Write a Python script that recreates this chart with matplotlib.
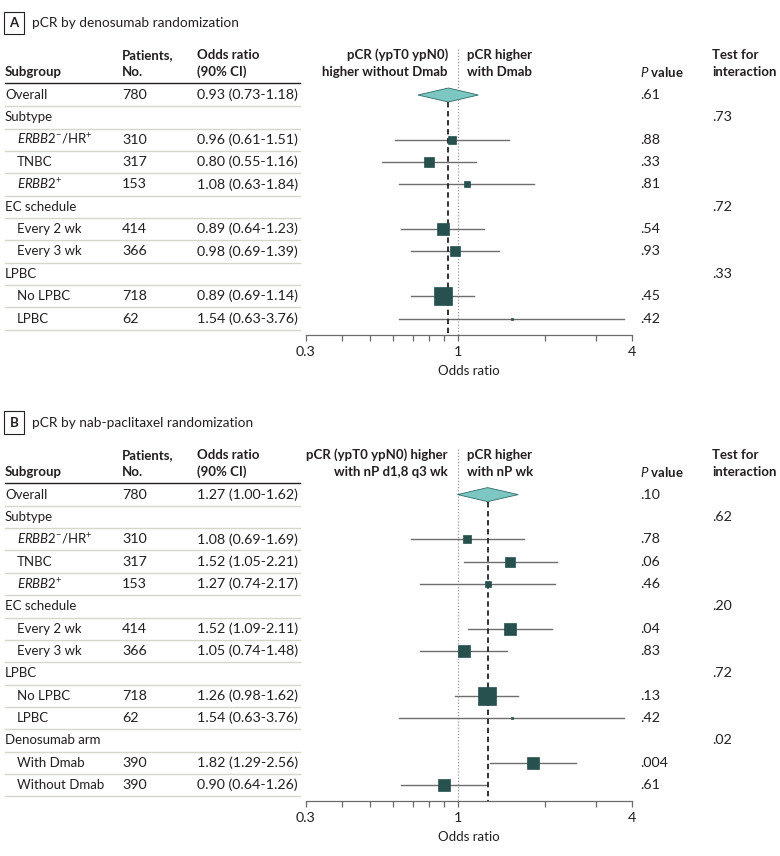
import numpy as np
import matplotlib
matplotlib.use('Agg')
import matplotlib.pyplot as plt
from matplotlib import transforms

plt.rcParams['font.family'] = ['Lato', 'DejaVu Sans']
plt.rcParams['mathtext.fontset'] = 'custom'
plt.rcParams['mathtext.rm'] = 'Lato'
plt.rcParams['mathtext.it'] = 'Lato:italic'
plt.rcParams['mathtext.bf'] = 'Lato:bold'

# Panel A: pCR by denosumab randomization
labels_a = ['Overall', 'Subtype', r'$\mathit{ERBB2}^{-}$/HR$^{+}$', 'TNBC', r'$\mathit{ERBB2}^{+}$',
            'EC schedule', 'Every 2 wk', 'Every 3 wk', 'LPBC', 'No LPBC', 'LPBC']
level_a = [0, 0, 1, 1, 1, 0, 1, 1, 0, 1, 1]
n_a = [780, None, 310, 317, 153, None, 414, 366, None, 718, 62]
or_a = [0.93, None, 0.96, 0.80, 1.08, None, 0.89, 0.98, None, 0.89, 1.54]
lo_a = [0.73, None, 0.61, 0.55, 0.63, None, 0.64, 0.69, None, 0.69, 0.63]
hi_a = [1.18, None, 1.51, 1.16, 1.84, None, 1.23, 1.39, None, 1.14, 3.76]
p_a = ['.61', '', '.88', '.33', '.81', '', '.54', '.93', '', '.45', '.42']
pint_a = ['', '.73', '', '', '', '.72', '', '', '.33', '', '']

# Panel B: pCR by nab-paclitaxel randomization
labels_b = ['Overall', 'Subtype', r'$\mathit{ERBB2}^{-}$/HR$^{+}$', 'TNBC', r'$\mathit{ERBB2}^{+}$',
            'EC schedule', 'Every 2 wk', 'Every 3 wk', 'LPBC', 'No LPBC', 'LPBC',
            'Denosumab arm', 'With Dmab', 'Without Dmab']
level_b = [0, 0, 1, 1, 1, 0, 1, 1, 0, 1, 1, 0, 1, 1]
n_b = [780, None, 310, 317, 153, None, 414, 366, None, 718, 62, None, 390, 390]
or_b = [1.27, None, 1.08, 1.52, 1.27, None, 1.52, 1.05, None, 1.26, 1.54, None, 1.82, 0.90]
lo_b = [1.00, None, 0.69, 1.05, 0.74, None, 1.09, 0.74, None, 0.98, 0.63, None, 1.29, 0.64]
hi_b = [1.62, None, 1.69, 2.21, 2.17, None, 2.11, 1.48, None, 1.62, 3.76, None, 2.56, 1.26]
p_b = ['.10', '', '.78', '.06', '.46', '', '.04', '.83', '', '.13', '.42', '', '.004', '.61']
pint_b = ['', '.62', '', '', '', '.20', '', '', '.72', '', '', '.02', '', '']

W, H = 780, 856
S = 22.35
FS = 9.5     # words
FN = 10.3    # numbers (reference numerals run wide)
TXT = '#231f20'
SQ = '#27514f'
fig = plt.figure(figsize=(W / 100, H / 100), dpi=100)


def draw_panel(letter, title, top, labels, level, n, orr, lo, hi, pv, pint, left_txt, right_txt):
    nrows = len(labels)
    axis_px = top + (nrows - 1 + 0.72) * S
    head_px = top - 50
    ax = fig.add_axes([306 / W, 1 - axis_px / H, 326 / W, (axis_px - head_px) / H])
    ax.set_xscale('log')
    ybot = (axis_px - top) / S
    ax.set_ylim(ybot, (head_px - top) / S)
    tr = transforms.blended_transform_factory(fig.transFigure, ax.transData)
    d = lambda px: (px - top) / S

    # title
    fig.text(14 / W, 1 - (top - 72) / H, letter, fontsize=FS, fontweight='bold', color=TXT,
             ha='center', va='center',
             bbox=dict(boxstyle='square,pad=0.4', fc='white', ec=TXT, lw=0.8))
    fig.text(32 / W, 1 - (top - 72) / H, title, fontsize=9.8, color=TXT, va='center')

    # headers
    h1, h2 = d(top - 40), d(top - 23)
    kw = dict(transform=tr, fontsize=FS, fontweight='bold', color=TXT, va='center')
    ax.text(5 / W, h2, 'Subgroup', **kw)
    ax.text(122 / W, h1, 'Patients,', **kw)
    ax.text(122 / W, h2, 'No.', **kw)
    ax.text(197 / W, h1, 'Odds ratio', **kw)
    ax.text(197 / W, h2, '(90% CI)', **kw)
    ax.text(448 / W, h1, left_txt[0], ha='right', **kw)
    ax.text(448 / W, h2, left_txt[1], ha='right', **kw)
    ax.text(467 / W, h1, right_txt[0], **kw)
    ax.text(467 / W, h2, right_txt[1], **kw)
    ax.text(640 / W, h2, r'$\mathit{P}$ value', **kw)
    ax.text(712 / W, h1, 'Test for', **kw)
    ax.text(712 / W, h2, 'interaction', **kw)
    ax.plot([5 / W, 300 / W], [d(top - 12)] * 2, transform=tr, color=TXT, lw=1.0, clip_on=False)

    kw = dict(transform=tr, color=TXT, va='center')
    for i in range(nrows):
        ax.text((5 if level[i] == 0 else 17) / W, i, labels[i], fontsize=FS, **kw)
        if n[i] is not None:
            ax.text(122 / W, i, str(n[i]), fontsize=FN, **kw)
            ax.text(197 / W, i, f'{orr[i]:.2f} ({lo[i]:.2f}-{hi[i]:.2f})', fontsize=FN, **kw)
        ax.text(640 / W, i, pv[i], fontsize=FN, **kw)
        ax.text(712 / W, i, pint[i], fontsize=FN, **kw)
        ax.plot([5 / W, 300 / W], [i + 0.5] * 2, transform=tr, color='#d6d6cb', lw=1.0, clip_on=False)

    # reference line at 1 and overall estimate
    ax.plot([1, 1], [d(top - 46), ybot], color='#9a9a9a', ls=(0, (1, 1.5)), lw=0.9)
    hh = 7 / S
    ax.fill([lo[0], orr[0], hi[0], orr[0]], [0, -hh, 0, hh], fc='#7cc7c2', ec='#2f6b68', lw=0.6, zorder=4)
    ax.plot([orr[0], orr[0]], [hh, ybot], color='#222222', ls=(0, (3, 2)), lw=1.3, zorder=3)

    for i in range(1, nrows):
        if orr[i] is None:
            continue
        ax.plot([lo[i], hi[i]], [i, i], color='#6e6e6e', lw=1.0, zorder=2)
        se = (np.log(hi[i]) - np.log(lo[i])) / (2 * 1.645)
        side = 1.07 * (1 / se ** 2) ** 0.75
        ax.plot(orr[i], i, marker='s', ms=side * 0.72, color=SQ, mec=SQ, mew=0.5, zorder=5)

    ax.set_xlim(0.3, 4)
    ax.set_xticks([0.3, 1, 4])
    ax.set_xticklabels(['0.3', '1', '4'])
    ax.set_xticks([0.4, 0.5, 0.6, 0.7, 0.8, 0.9, 2, 3], minor=True)
    ax.xaxis.set_minor_formatter(plt.NullFormatter())
    ax.tick_params(axis='x', which='both', length=4, width=0.9, color='#6b6b6b',
                   labelsize=FN, labelcolor=TXT, pad=4)
    ax.set_yticks([])
    for sp in ['left', 'right', 'top']:
        ax.spines[sp].set_visible(False)
    ax.spines['bottom'].set_color('#6b6b6b')
    ax.spines['bottom'].set_linewidth(0.9)
    ax.set_xlabel('Odds ratio', fontsize=FS, color=TXT, labelpad=5)
    ax.patch.set_alpha(0)


draw_panel('A', 'pCR by denosumab randomization', 95, labels_a, level_a, n_a, or_a, lo_a, hi_a,
           p_a, pint_a, ('pCR (ypT0 ypN0)', 'higher without Dmab'), ('pCR higher', 'with Dmab'))
draw_panel('B', 'pCR by nab-paclitaxel randomization', 494.6, labels_b, level_b, n_b, or_b, lo_b, hi_b,
           p_b, pint_b, ('pCR (ypT0 ypN0) higher', 'with nP d1,8 q3 wk'), ('pCR higher', 'with nP wk'))

fig.savefig('out.png', dpi=100)
